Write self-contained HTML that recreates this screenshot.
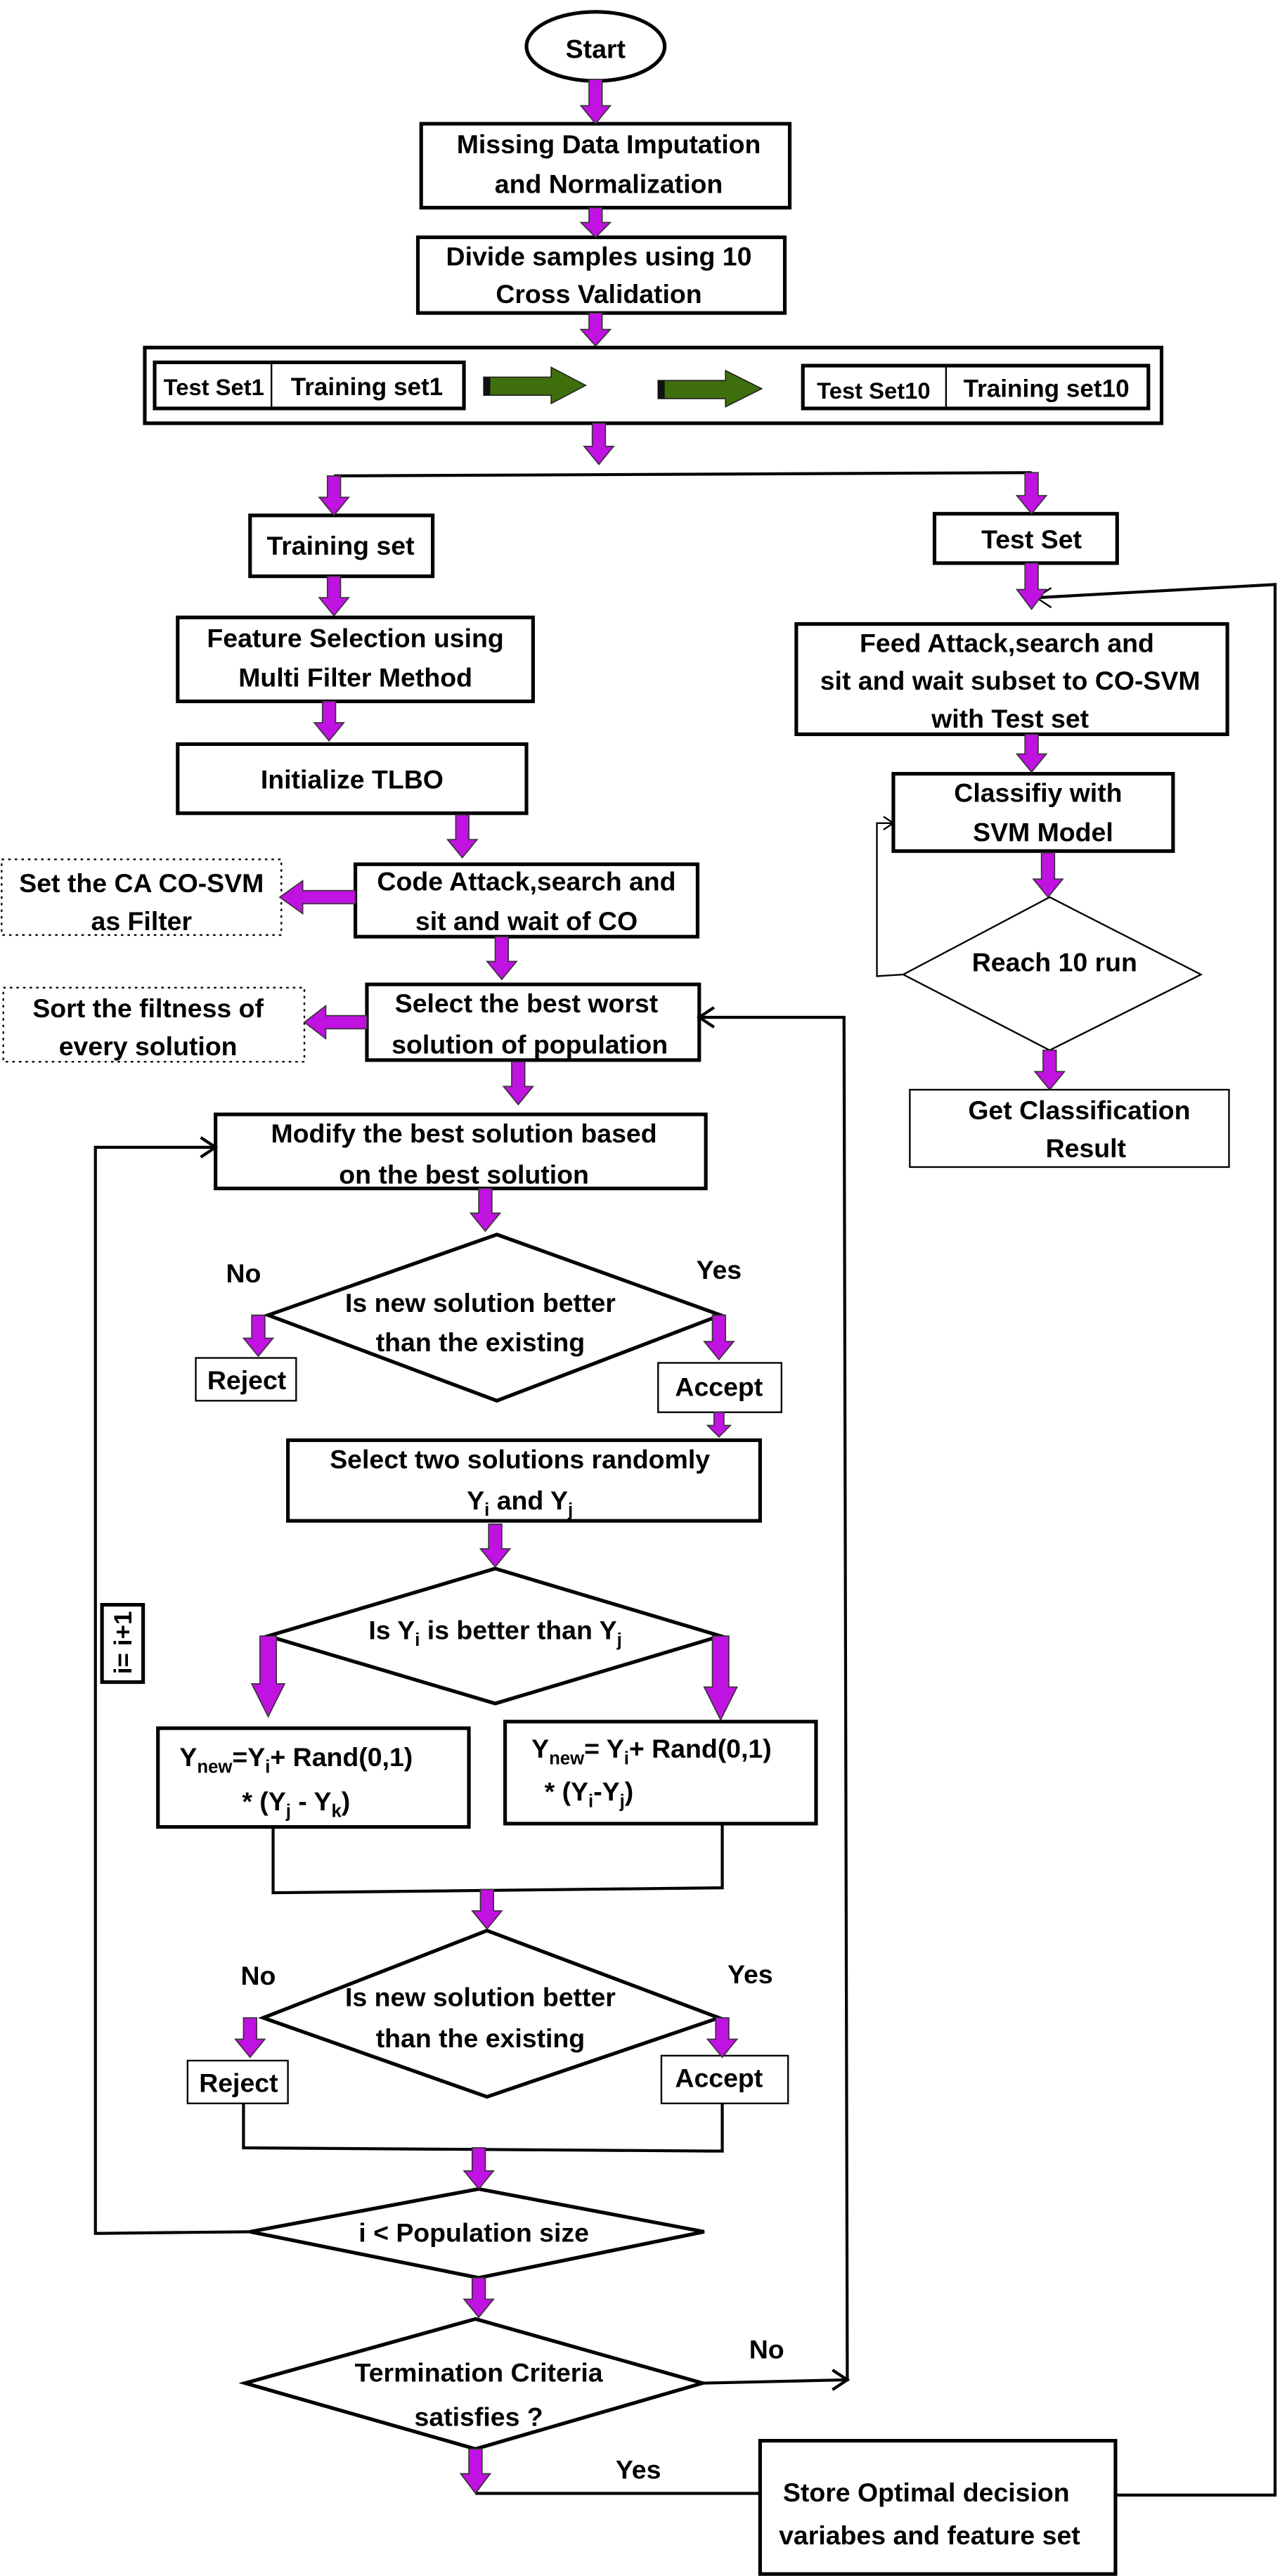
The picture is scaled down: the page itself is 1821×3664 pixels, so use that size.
<!DOCTYPE html>
<html><head><meta charset="utf-8"><style>
html,body{margin:0;padding:0;background:#fff;}
svg{display:block;}
text{font-family:"Liberation Sans Narrow","Liberation Sans",sans-serif;font-weight:bold;font-size:16px;fill:#000;text-anchor:middle;}
.b{fill:#fff;stroke:#000;stroke-width:2.2;}
.t{fill:#fff;stroke:#000;stroke-width:1;}
.d{fill:#fff;stroke:#000;stroke-width:1;stroke-dasharray:1.5 2.5;}
.m{fill:#c012e0;stroke:#333;stroke-width:0.7;}
.l{fill:none;stroke:#000;stroke-width:1.8;}
.s{font-size:11px;}
</style></head><body>
<svg width="1821" height="3664" viewBox="0 0 778 1565" xmlns="http://www.w3.org/2000/svg">
<ellipse cx="362" cy="28" rx="42" ry="21" class="b"/>
<text x="362" y="35">Start</text>

<rect x="256" y="75" width="224" height="51" class="b"/>
<text x="370" y="93">Missing Data Imputation</text>
<text x="370" y="117">and Normalization</text>

<rect x="254" y="144" width="223" height="46" class="b"/>
<text x="364" y="161">Divide samples using 10</text>
<text x="364" y="184">Cross Validation</text>

<rect x="88" y="211" width="618" height="46" class="b"/>
<rect x="94" y="220" width="188" height="28" class="b"/>
<line x1="165" y1="220" x2="165" y2="248" stroke="#000" stroke-width="1"/>
<text x="130" y="240" style="font-size:14px">Test Set1</text>
<text x="223" y="240" style="font-size:15px">Training set1</text>
<rect x="488" y="222" width="210" height="26" class="b"/>
<line x1="575" y1="222" x2="575" y2="248" stroke="#000" stroke-width="1"/>
<text x="531" y="242" style="font-size:14px">Test Set10</text>
<text x="636" y="241" style="font-size:15px">Training set10</text>
<polygon points="294,229 335,229 335,223 356,234 335,245 335,240 294,240" fill="#3f6e0c" stroke="#222" stroke-width="0.7"/>
<rect x="294" y="229" width="4" height="11" fill="#111"/>
<polygon points="400,231 441,231 441,225 463,236 441,247 441,242 400,242" fill="#3f6e0c" stroke="#222" stroke-width="0.7"/>
<rect x="400" y="231" width="4" height="11" fill="#111"/>

<polyline points="203,289 627,287" class="l"/>

<rect x="152" y="313" width="111" height="37" class="b"/>
<text x="207" y="337">Training set</text>
<rect x="568" y="312" width="111" height="30" class="b"/>
<text x="627" y="333">Test Set</text>

<rect x="108" y="375" width="216" height="51" class="b"/>
<text x="216" y="393">Feature Selection using</text>
<text x="216" y="417">Multi Filter Method</text>

<rect x="108" y="452" width="212" height="42" class="b"/>
<text x="214" y="479">Initialize TLBO</text>

<rect x="216" y="525" width="208" height="44" class="b"/>
<text x="320" y="541">Code Attack,search and</text>
<text x="320" y="565">sit and wait of CO</text>
<rect x="1" y="522" width="170" height="46" class="d"/>
<text x="86" y="542">Set the CA CO-SVM</text>
<text x="86" y="565">as Filter</text>

<rect x="223" y="598" width="202" height="46" class="b"/>
<text x="320" y="615">Select the best worst</text>
<text x="322" y="640">solution of population</text>
<rect x="2" y="600" width="183" height="45" class="d"/>
<text x="90" y="618">Sort the filtness of</text>
<text x="90" y="641">every solution</text>

<rect x="131" y="677" width="298" height="45" class="b"/>
<text x="282" y="694">Modify the best solution based</text>
<text x="282" y="719">on the best solution</text>

<polygon points="302,750 438,799 302,851 163,799" class="b"/>
<text x="292" y="797">Is new solution better</text>
<text x="292" y="821">than the existing</text>
<text x="148" y="779">No</text>
<text x="437" y="777">Yes</text>
<rect x="119" y="825" width="61" height="26" class="t"/>
<text x="150" y="844">Reject</text>
<rect x="400" y="828" width="75" height="30" class="t"/>
<text x="437" y="848">Accept</text>

<rect x="175" y="875" width="287" height="49" class="b"/>
<text x="316" y="892">Select two solutions randomly</text>
<text x="316" y="917">Y<tspan class="s" dy="4">i</tspan><tspan dy="-4"> and Y</tspan><tspan class="s" dy="4">j</tspan></text>

<polygon points="301,953 438,994 301,1035 163,994" class="b"/>
<text x="301" y="996">Is Y<tspan class="s" dy="4">i</tspan><tspan dy="-4"> is better than Y</tspan><tspan class="s" dy="4">j</tspan></text>

<rect x="96" y="1050" width="189" height="60" class="b"/>
<text x="180" y="1073">Y<tspan class="s" dy="4">new</tspan><tspan dy="-4">=Y</tspan><tspan class="s" dy="4">i</tspan><tspan dy="-4">+ Rand(0,1)</tspan></text>
<text x="180" y="1100">*  (Y<tspan class="s" dy="4">j</tspan><tspan dy="-4"> - Y</tspan><tspan class="s" dy="4">k</tspan><tspan dy="-4">)</tspan></text>
<rect x="307" y="1046" width="189" height="62" class="b"/>
<text x="396" y="1068">Y<tspan class="s" dy="4">new</tspan><tspan dy="-4">= Y</tspan><tspan class="s" dy="4">i</tspan><tspan dy="-4">+ Rand(0,1)</tspan></text>
<text x="358" y="1094">*  (Y<tspan class="s" dy="4">i</tspan><tspan dy="-4">-Y</tspan><tspan class="s" dy="4">j</tspan><tspan dy="-4">)</tspan></text>
<polyline points="166,1110 166,1150 439,1147 439,1108" class="l"/>

<polygon points="296,1173 437,1226 296,1274 160,1226" class="b"/>
<text x="292" y="1219">Is new solution better</text>
<text x="292" y="1244">than the existing</text>
<text x="157" y="1206">No</text>
<text x="456" y="1205">Yes</text>
<rect x="114" y="1252" width="61" height="26" class="t"/>
<text x="145" y="1271">Reject</text>
<rect x="402" y="1249" width="77" height="29" class="t"/>
<text x="437" y="1268">Accept</text>
<polyline points="148,1278 148,1305 439,1307 439,1278" class="l"/>

<polygon points="291,1330 428,1356 291,1384 152,1356" class="b"/>
<text x="288" y="1362">i &lt; Population size</text>
<polyline points="152,1356 58,1357 58,697 131,697" class="l"/>
<polyline points="122,691 131,697 122,703" class="l"/>
<rect x="62" y="975" width="25" height="47" class="b"/>
<text transform="translate(80,998) rotate(-90)" style="font-size:15px">i= i+1</text>

<polygon points="289,1409 427,1448 289,1488 149,1448" class="b"/>
<text x="291" y="1447">Termination Criteria</text>
<text x="291" y="1474">satisfies ?</text>
<text x="466" y="1433">No</text>
<polyline points="427,1448 515,1446 513,618 425,618" class="l"/>
<polyline points="506,1440 515,1446 506,1452" class="l"/>
<polyline points="434,612 425,618 434,624" class="l"/>
<text x="388" y="1506">Yes</text>
<polyline points="289,1515 462,1515" class="l"/>

<rect x="462" y="1483" width="216" height="81" class="b"/>
<text x="563" y="1520">Store Optimal decision</text>
<text x="565" y="1546">variabes and feature set</text>
<polyline points="678,1516 775,1516 775,355 630,363" class="l"/>
<polyline points="639,357 630,363 639,369" class="l" style="stroke-width:1"/>

<rect x="484" y="379" width="262" height="67" class="b"/>
<text x="612" y="396">Feed  Attack,search and</text>
<text x="614" y="419">sit and wait subset to CO-SVM</text>
<text x="614" y="442">with Test set</text>

<rect x="543" y="470" width="170" height="47" class="b"/>
<text x="631" y="487">Classifiy with</text>
<text x="634" y="511">SVM Model</text>

<polygon points="638,545 730,592 638,638 549,592" class="t"/>
<text x="641" y="590">Reach 10 run</text>
<polyline points="549,592 533,593 533,500 543,500" class="l" style="stroke-width:1"/>
<polyline points="537,496 543,500 537,504" class="l" style="stroke-width:1"/>

<rect x="553" y="662" width="194" height="47" class="t"/>
<text x="656" y="680">Get Classification</text>
<text x="660" y="703">Result</text>

<g class="m">
<polygon points="358,48 366,48 366,64 371,64 362,75 353,64 358,64"/>
<polygon points="358,126 366,126 366,135 371,135 362,144 353,135 358,135"/>
<polygon points="358,190 366,190 366,200 371,200 362,210 353,200 358,200"/>
<polygon points="360,257 368,257 368,271 373,271 364,282 355,271 360,271"/>
<polygon points="199,289 207,289 207,302 212,302 203,313 194,302 199,302"/>
<polygon points="623,287 631,287 631,301 636,301 627,312 618,301 623,301"/>
<polygon points="199,350 207,350 207,363 212,363 203,374 194,363 199,363"/>
<polygon points="196,426 204,426 204,439 209,439 200,450 191,439 196,439"/>
<polygon points="277,495 285,495 285,510 290,510 281,521 272,510 277,510"/>
<polygon points="301,569 309,569 309,584 314,584 305,595 296,584 301,584"/>
<polygon points="311,645 319,645 319,660 324,660 315,671 306,660 311,660"/>
<polygon points="291,722 299,722 299,737 304,737 295,748 286,737 291,737"/>
<polygon points="153,799 161,799 161,813 166,813 157,824 148,813 153,813"/>
<polygon points="433,799 441,799 441,815 446,815 437,826 428,815 433,815"/>
<polygon points="434,858 440,858 440,866 444,866 437,873 430,866 434,866"/>
<polygon points="297,926 305,926 305,941 310,941 301,952 292,941 297,941"/>
<polygon points="158,994 168,994 168,1023 173,1023 163,1043 153,1023 158,1023"/>
<polygon points="433,994 443,994 443,1025 448,1025 438,1045 428,1025 433,1025"/>
<polygon points="292,1148 300,1148 300,1161 305,1161 296,1172 287,1161 292,1161"/>
<polygon points="148,1226 156,1226 156,1239 161,1239 152,1250 143,1239 148,1239"/>
<polygon points="435,1226 443,1226 443,1239 448,1239 439,1250 430,1239 435,1239"/>
<polygon points="287,1305 295,1305 295,1319 300,1319 291,1330 282,1319 287,1319"/>
<polygon points="287,1384 295,1384 295,1397 300,1397 291,1408 282,1397 287,1397"/>
<polygon points="285,1488 293,1488 293,1503 298,1503 289,1515 280,1503 285,1503"/>
<polygon points="623,342 631,342 631,358 636,358 627,370 618,358 623,358"/>
<polygon points="623,446 631,446 631,458 636,458 627,469 618,458 623,458"/>
<polygon points="633,518 641,518 641,534 646,534 637,545 628,534 633,534"/>
<polygon points="634,638 642,638 642,651 647,651 638,662 629,651 634,651"/>
<polygon points="216,541 216,549 184,549 184,555 170,545 184,535 184,541"/>
<polygon points="223,617 223,625 198,625 198,631 185,621 198,611 198,617"/>
</g>
</svg>
</body></html>
